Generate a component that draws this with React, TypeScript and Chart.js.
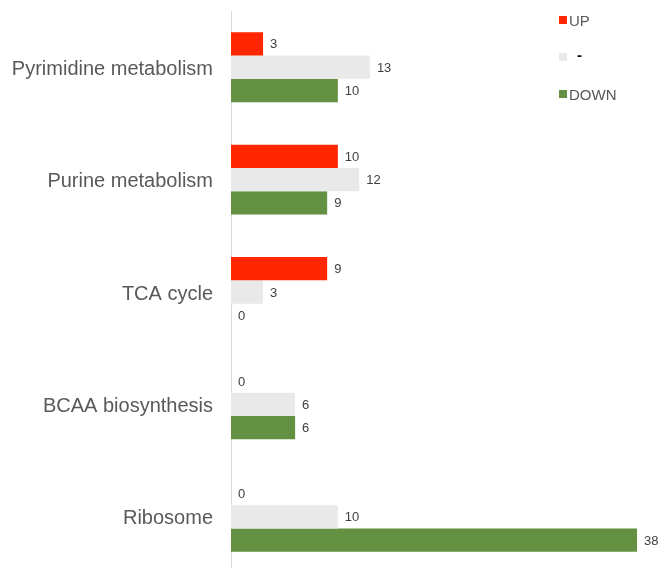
import React, { useEffect, useRef } from "react";
import { Chart, registerables } from "chart.js";

Chart.register(...registerables);

const categories = [
  "Pyrimidine metabolism",
  "Purine metabolism",
  "TCA cycle",
  "BCAA biosynthesis",
  "Ribosome",
];
const seriesNames = ["UP", "-", "DOWN"];
const upValues = [3, 10, 9, 0, 0];
const neutralValues = [13, 12, 3, 6, 10];
const downValues = [10, 9, 0, 6, 38];
const seriesColors = ["#ff2600", "#e9e9e9", "#639141"];
const legendTextColors = ["#595959", "#000000", "#595959"];

const FONT = "'Liberation Sans', Arial, sans-serif";

// Writes each bar's value just past its end.
const valueLabels = {
  id: "valueLabels",
  afterDatasetsDraw(chart: any) {
    const ctx = chart.ctx;
    ctx.save();
    ctx.font = `13px ${FONT}`;
    ctx.fillStyle = "#404040";
    ctx.textAlign = "left";
    ctx.textBaseline = "middle";
    chart.data.datasets.forEach((ds: any, i: number) => {
      const meta = chart.getDatasetMeta(i);
      meta.data.forEach((bar: any, j: number) => {
        ctx.fillText(String(ds.data[j]), bar.x + 7, bar.y + 1);
      });
    });
    ctx.restore();
  },
};

// Vertical legend in the upper right corner.
const sideLegend = {
  id: "sideLegend",
  afterDraw(chart: any) {
    const ctx = chart.ctx;
    ctx.save();
    ctx.textBaseline = "middle";
    ctx.textAlign = "left";
    const x0 = 559;
    const ys = [20, 57, 94];
    chart.data.datasets.forEach((ds: any, i: number) => {
      const y = ys[i];
      ctx.fillStyle = ds.backgroundColor;
      ctx.fillRect(x0, y - 4, 8, 8);
      ctx.fillStyle = legendTextColors[i];
      if (ds.label === "-") {
        ctx.font = `bold 15px ${FONT}`;
        ctx.fillText(ds.label, 577, y - 1);
      } else {
        ctx.font = `15px ${FONT}`;
        ctx.fillText(ds.label, 569, y + 1.5);
      }
    });
    ctx.restore();
  },
};

export default function App() {
  const canvasRef = useRef<HTMLCanvasElement | null>(null);

  useEffect(() => {
    if (!canvasRef.current) return;
    const values = [upValues, neutralValues, downValues];
    const chart = new Chart(canvasRef.current, {
      type: "bar",
      data: {
        labels: categories,
        datasets: seriesNames.map((name, i) => ({
          label: name,
          data: values[i],
          backgroundColor: seriesColors[i],
          borderWidth: 0,
          categoryPercentage: 0.622,
          barPercentage: 1,
        })),
      },
      options: {
        indexAxis: "y",
        animation: false,
        responsive: false,
        layout: { padding: { top: 11, right: 24, bottom: 0, left: 0 } },
        plugins: {
          legend: { display: false },
          tooltip: { enabled: false },
        },
        scales: {
          x: {
            display: false,
            min: 0,
            max: 38,
          },
          y: {
            grid: { display: false, drawTicks: false },
            border: { display: true, color: "#d9d9d9", width: 1 },
            ticks: {
              color: "#595959",
              font: { family: FONT, size: 20 },
              padding: 18,
              labelOffset: 2,
            },
            afterFit: (scale: any) => {
              scale.width = 231;
              scale.paddingTop = 0;
              scale.paddingBottom = 0;
            },
          },
        },
      },
      plugins: [valueLabels, sideLegend],
    });
    return () => chart.destroy();
  }, []);

  return (
    <div
      style={{
        position: "fixed",
        top: 0,
        left: 0,
        width: 661,
        height: 568,
        overflow: "hidden",
        background: "#ffffff",
      }}
    >
      <canvas ref={canvasRef} width={661} height={573} style={{ display: "block" }} />
    </div>
  );
}
